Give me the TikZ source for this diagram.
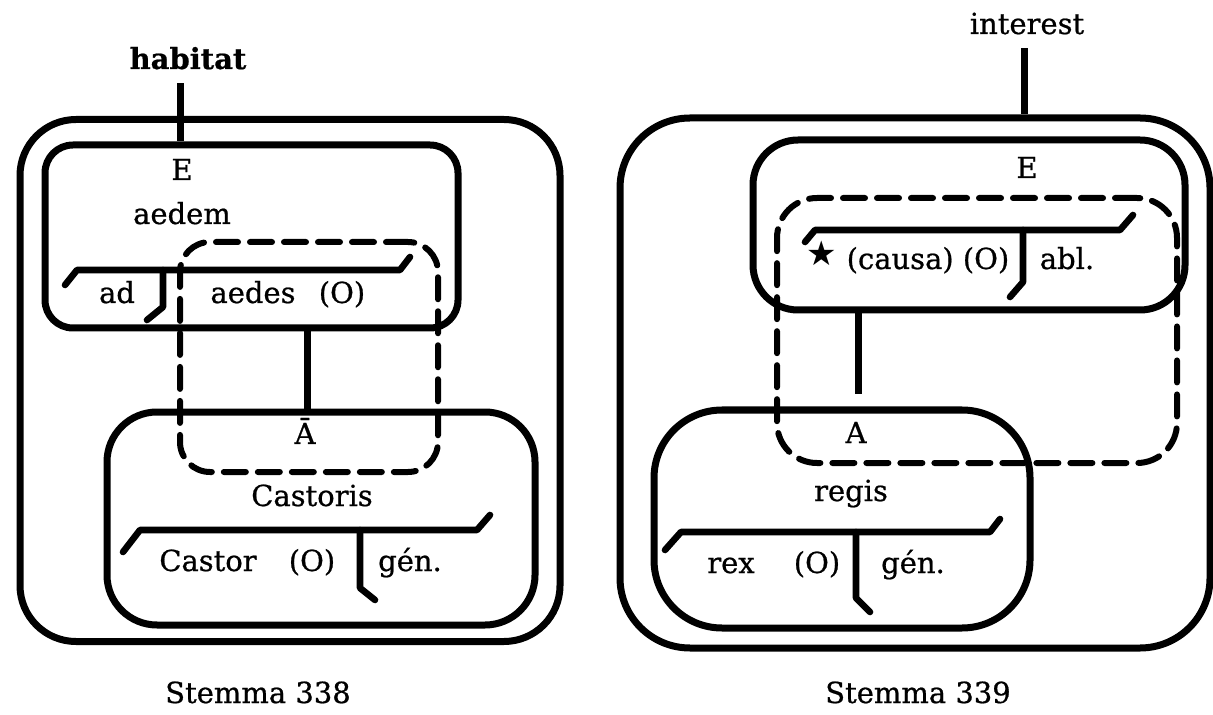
\documentclass[tikz,border=0pt]{standalone}
\usepackage{fontspec}
\setmainfont{DejaVu Serif}[FakeBold=0.7]
\newfontfamily\symf{DejaVu Sans}
\begin{document}
\begin{tikzpicture}[x=0.5pt,y=-0.5pt,
  lw/.style={line width=3.5pt},
  box/.style={draw, line width=3.5pt, inner sep=0pt, rectangle},
  dbox/.style={draw, line width=3pt, inner sep=0pt, rectangle, dash pattern=on 11pt off 6pt, line cap=round},
  stem/.style={line width=3.3pt, line cap=round, line join=round},
  txt/.style={font=\fontsize{14.5}{16}\selectfont, inner sep=0pt, text height=0.7em, text depth=0.1em},
  txtb/.style={font=\fontsize{14.5}{16}\selectfont\bfseries, inner sep=0pt, text height=0.7em, text depth=0.1em},
]
\useasboundingbox (0,0) rectangle (1213,715);

% ---------- Stemma 338 ----------
\node[box, minimum width=270pt, minimum height=261pt, rounded corners=28pt] (outerL) at (290,380.5) {};
\node[box, minimum width=206.5pt, minimum height=91.5pt, rounded corners=14pt] (EL) at (251.5,236.5) {};
\node[dbox, minimum width=129pt, minimum height=115pt, rounded corners=15pt] (dashL) at (309,357) {};
\node[box, minimum width=214pt, minimum height=106.5pt, rounded corners=25pt] (CB) at (321,518.5) {};

\node[txtb] (habitat) at (188,63) {habitat};
\node[txt] (ELlab) at (182,174) {E};
\node[txt] (aedem) at (182,218) {aedem};
\node[txt] (ad) at (117,297) {ad};
\node[txt] (aedes) at (253,297) {aedes};
\node[txt] (O1) at (342,297) {(O)};
\node[txt] (Abar) at (305,438) {Ā};
\node[txt] (castoris) at (312,500) {Castoris};
\node[txt] (castor) at (208,565) {Castor};
\node[txt] (O2) at (312,565) {(O)};
\node[txt] (gen1) at (410,565) {gén.};
\node[txt] (st338) at (258,697) {Stemma 338};

\coordinate (hl) at (180,0);
\draw[lw] ([yshift=-6pt]hl |- habitat.south) -- (hl |- EL.north);
\draw[stem] (65,285) -- (77,270) -- (400,270) -- (410,257);
\draw[stem] (163,270) -- (163,307) -- (147,320);
\coordinate (cL) at (307,0);
\draw[lw] (cL |- EL.south) -- (cL |- CB.north);
\draw[stem] (123,552) -- (140,530) -- (477,530) -- (490,515);
\draw[stem] (360,530) -- (360,588) -- (375,600);

% ---------- Stemma 339 ----------
\node[box, minimum width=295pt, minimum height=265pt, rounded corners=35pt] (outerR) at (915,383) {};
\node[box, minimum width=216pt, minimum height=85pt, rounded corners=22.5pt] (ER) at (969,225) {};
\node[dbox, minimum width=200pt, minimum height=132.5pt, rounded corners=20pt] (dashR) at (977,330.5) {};
\node[box, minimum width=188pt, minimum height=109pt, rounded corners=34pt] (RB) at (842,519) {};

\node[txt] (interest) at (1027,28) {interest};
\node[txt] (ERlab) at (1027,172) {E};
\node[inner sep=0pt, font=\fontsize{17}{18}\selectfont\symf] (star) at (822,253) {★};
\node[txt] (causa) at (928,263) {(causa) (O)};
\node[txt] (abl) at (1067,263) {abl.};
\node[txt] (Alab) at (856,437) {A};
\node[txt] (regis) at (851,495) {regis};
\node[txt] (rex) at (731,567) {rex};
\node[txt] (O3) at (817,567) {(O)};
\node[txt] (gen2) at (913,567) {gén.};
\node[txt] (st339) at (918,697) {Stemma 339};

\coordinate (il) at (1024,0);
\draw[lw] ([yshift=-6pt]il |- interest.south) -- (il |- outerR.north);
\draw[stem] (805,242) -- (815,230) -- (1120,230) -- (1133,215);
\draw[stem] (1023,230) -- (1023,282) -- (1010,297);
\coordinate (cR) at (858,0);
\draw[lw] (cR |- ER.south) -- ([yshift=6pt]cR |- RB.north);
\draw[stem] (665,550) -- (681,532) -- (990,532) -- (1000,519);
\draw[stem] (856,532) -- (856,598) -- (870,612);
\end{tikzpicture}
\end{document}
